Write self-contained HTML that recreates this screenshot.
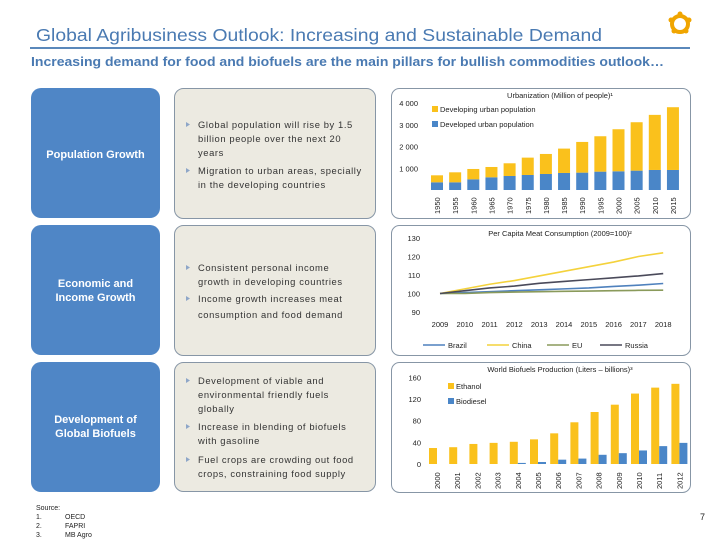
<!DOCTYPE html>
<html><head><meta charset="utf-8">
<style>
body{margin:0;background:#fff;}
svg{display:block;font-family:"Liberation Sans",Arial,sans-serif;}
.bt{font-size:9.4px;fill:#333;letter-spacing:0.6px}
.lab{font-size:11px;fill:#fff;font-weight:bold}
.ax{font-size:7.5px;fill:#222}
.tt{font-size:7.5px;fill:#222}
</style></head><body>
<svg id="s" width="720" height="540" viewBox="0 0 720 540">
<text x="36" y="41" font-size="17.5" fill="#4a7ab2" textLength="566" lengthAdjust="spacingAndGlyphs">Global Agribusiness Outlook: Increasing and Sustainable Demand</text>
<line x1="30" y1="48" x2="690" y2="48" stroke="#5a88bb" stroke-width="2"/>
<g>
<circle cx="680" cy="24" r="8" fill="none" stroke="#f0a500" stroke-width="4"/>
<circle cx="680" cy="14" r="2.5" fill="#f0a500"/><circle cx="671" cy="20" r="2.5" fill="#f0a500"/><circle cx="689" cy="20" r="2.5" fill="#f0a500"/><circle cx="674" cy="31" r="2.5" fill="#f0a500"/><circle cx="686" cy="31" r="2.5" fill="#f0a500"/>
</g>
<text x="31" y="66" font-size="12.8" font-weight="bold" fill="#4a7ab2" textLength="633" lengthAdjust="spacingAndGlyphs">Increasing demand for food and biofuels are the main pillars for bullish commodities outlook…</text>

<g>
<rect x="31" y="88" width="129" height="130" rx="10" fill="#4f86c6"/>
<text class="lab" x="95.5" y="158" text-anchor="middle">Population Growth</text>
<rect x="174.5" y="88.5" width="201" height="130" rx="9" fill="#eceae1" stroke="#8796a6"/>
<text class="bt">
<tspan x="198" y="128">Global population will rise by 1.5</tspan><tspan x="198" y="142">billion people over the next 20</tspan><tspan x="198" y="156">years</tspan>
<tspan x="198" y="174">Migration to urban areas, specially</tspan><tspan x="198" y="188">in the developing countries</tspan></text>
</g>
<g>
<rect x="31" y="225" width="129" height="130" rx="10" fill="#4f86c6"/>
<text class="lab" x="95.5" y="287" text-anchor="middle"><tspan x="95.5">Economic and</tspan><tspan x="95.5" dy="14">Income Growth</tspan></text>
<rect x="174.5" y="225.5" width="201" height="130" rx="9" fill="#eceae1" stroke="#8796a6"/>
<text class="bt">
<tspan x="198" y="271">Consistent personal income</tspan><tspan x="198" y="285">growth in developing countries</tspan>
<tspan x="198" y="302">Income growth increases meat</tspan><tspan x="198" y="318">consumption and food demand</tspan></text>
</g>
<g>
<rect x="31" y="362" width="129" height="130" rx="10" fill="#4f86c6"/>
<text class="lab" x="95.5" y="423" text-anchor="middle"><tspan x="95.5">Development of</tspan><tspan x="95.5" dy="14">Global Biofuels</tspan></text>
<rect x="174.5" y="362.5" width="201" height="129" rx="9" fill="#eceae1" stroke="#8796a6"/>
<text class="bt">
<tspan x="198" y="384">Development of viable and</tspan><tspan x="198" y="398">environmental friendly fuels</tspan><tspan x="198" y="412">globally</tspan>
<tspan x="198" y="430">Increase in blending of biofuels</tspan><tspan x="198" y="444">with gasoline</tspan>
<tspan x="198" y="463">Fuel crops are crowding out food</tspan><tspan x="198" y="477">crops, constraining food supply</tspan></text>
</g>
<g fill="#8ea6c8">
<path d="M186 122l4 2.5l-4 2.5z"/><path d="M186 168l4 2.5l-4 2.5z"/>
<path d="M186 265l4 2.5l-4 2.5z"/><path d="M186 296l4 2.5l-4 2.5z"/>
<path d="M186 378l4 2.5l-4 2.5z"/><path d="M186 424l4 2.5l-4 2.5z"/><path d="M186 457l4 2.5l-4 2.5z"/>
</g>

<rect x="391.5" y="88.5" width="299" height="130" rx="8" fill="#fff" stroke="#8796a6"/>
<rect x="391.5" y="225.5" width="299" height="130" rx="8" fill="#fff" stroke="#8796a6"/>
<rect x="391.5" y="362.5" width="299" height="130" rx="8" fill="#fff" stroke="#8796a6"/>
<text class="tt" x="560" y="98" text-anchor="middle">Urbanization (Million of people)¹</text>
<text class="tt" x="560" y="236" text-anchor="middle">Per Capita Meat Consumption (2009=100)²</text>
<text class="tt" x="560" y="372" text-anchor="middle">World Biofuels Production (Liters – billions)³</text>

<text font-size="7" fill="#222"><tspan x="36" y="510">Source:</tspan><tspan x="36" y="519">1.</tspan><tspan x="65" y="519">OECD</tspan><tspan x="36" y="528">2.</tspan><tspan x="65" y="528">FAPRI</tspan><tspan x="36" y="537">3.</tspan><tspan x="65" y="537">MB Agro</tspan></text>
<text x="700" y="520" font-size="9" fill="#222">7</text>
<g id="c1"></g>
<g id="c2"></g>
<g id="c3"></g>
</svg>
<script>
const urbYears=["1950","1955","1960","1965","1970","1975","1980","1985","1990","1995","2000","2005","2010","2015"];
const urbDeveloped=[354,354,492,585,646,692,738,785,800,846,862,892,923,923];
const urbDeveloping=[323,461,477,476,585,800,923,1123,1415,1631,1938,2231,2539,2892];
const urbTicks=[1000,2000,3000,4000];
const urbTickLabels=["1 000","2 000","3 000","4 000"];

const meatYears=["2009","2010","2011","2012","2013","2014","2015","2016","2017","2018"];
const meatBrazil=[100,100.5,101,101.5,102,102.5,103,103.8,104.5,105.4];
const meatChina=[100,102.5,105,107,109.5,112,114.5,117,120,122];
const meatEU=[100,100,100.5,100.8,101,101.2,101.3,101.5,101.7,101.8];
const meatRussia=[100,101.5,103,104,105.5,106.5,107.5,108.5,109.5,110.8];
const meatTicks=[90,100,110,120,130];

const bioYears=["2000","2001","2002","2003","2004","2005","2006","2007","2008","2009","2010","2011","2012"];
const bioEthanol=[29.5,31,37,39,41,45.5,56.6,77,96,109.5,130,141,148];
const bioBiodiesel=[0,0,0,0,2,3.7,8,10,17,20,25,33,39];
const bioTicks=[0,40,80,120,160];

const NS="http://www.w3.org/2000/svg";
function mk(p,t,a){const e=document.createElementNS(NS,t);for(const k in a)e.setAttribute(k,a[k]);p.appendChild(e);return e;}
const YEL="#fac11c",BLU="#4a86c8";

// Chart 1
(function(){
const g=document.getElementById('c1');
const y=v=>190-v*0.0217, x=i=>437+i*18.15;
urbTicks.forEach((t,i)=>{const e=mk(g,'text',{x:418,y:y(t)+3,'text-anchor':'end',class:'ax'});e.textContent=urbTickLabels[i];

});
urbYears.forEach((yr,i)=>{
const b1=mk(g,'rect',{x:x(i)-6,y:y(urbDeveloped[i]),width:12,height:190-y(urbDeveloped[i]),fill:BLU});


const tot=urbDeveloped[i]+urbDeveloping[i];
const b2=mk(g,'rect',{x:x(i)-6,y:y(tot),width:12,height:y(urbDeveloped[i])-y(tot),fill:YEL});


const t=mk(g,'text',{x:0,y:0,class:'ax',transform:`translate(${x(i)+3},214) rotate(-90)`});t.textContent=yr;


});
const l=[["Developing urban population",YEL,112],["Developed urban population",BLU,127]];
l.forEach(d=>{const r=mk(g,'rect',{x:432,y:d[2]-6,width:6,height:6,fill:d[1]});


const t=mk(g,'text',{x:440,y:d[2],class:'ax'});t.textContent=d[0];

});
})();

// Chart 2
(function(){
const g=document.getElementById('c2');
const y=v=>312-(v-90)*1.85, x=i=>440+i*24.8;
meatTicks.forEach(t=>{const e=mk(g,'text',{x:420,y:y(t)+3,'text-anchor':'end',class:'ax'});e.textContent=t;

});
meatYears.forEach((yr,i)=>{const e=mk(g,'text',{x:x(i),y:327,'text-anchor':'middle',class:'ax'});e.textContent=yr;

});
const ser=[["Brazil",meatBrazil,"#4f81bd",423],["China",meatChina,"#f4d23c",487],["EU",meatEU,"#8a9a5b",547],["Russia",meatRussia,"#4a4a5a",600]];
ser.forEach(s=>{
const p=mk(g,'polyline',{points:s[1].map((v,i)=>x(i)+','+y(v)).join(' '),fill:'none',stroke:s[2],'stroke-width':1.6});


const ll=mk(g,'line',{x1:s[3],x2:s[3]+22,y1:345,y2:345,stroke:s[2],'stroke-width':1.6});


const t=mk(g,'text',{x:s[3]+25,y:348,class:'ax'});t.textContent=s[0];


});
})();

// Chart 3
(function(){
const g=document.getElementById('c3');
const y=v=>464-v*0.5417, x=i=>437+i*20.2;
bioTicks.forEach(t=>{const e=mk(g,'text',{x:421,y:y(t)+3,'text-anchor':'end',class:'ax'});e.textContent=t;

});
bioYears.forEach((yr,i)=>{
const b1=mk(g,'rect',{x:x(i)-8,y:y(bioEthanol[i]),width:8,height:464-y(bioEthanol[i]),fill:YEL});


const b2=mk(g,'rect',{x:x(i),y:y(bioBiodiesel[i]),width:8,height:464-y(bioBiodiesel[i]),fill:BLU});


const t=mk(g,'text',{x:0,y:0,class:'ax',transform:`translate(${x(i)+3},489) rotate(-90)`});t.textContent=yr;


});
const l=[["Ethanol",YEL,389],["Biodiesel",BLU,404]];
l.forEach(d=>{const r=mk(g,'rect',{x:448,y:d[2]-6,width:6,height:6,fill:d[1]});


const t=mk(g,'text',{x:456,y:d[2],class:'ax'});t.textContent=d[0];

});
})();
</script>
</body></html>
